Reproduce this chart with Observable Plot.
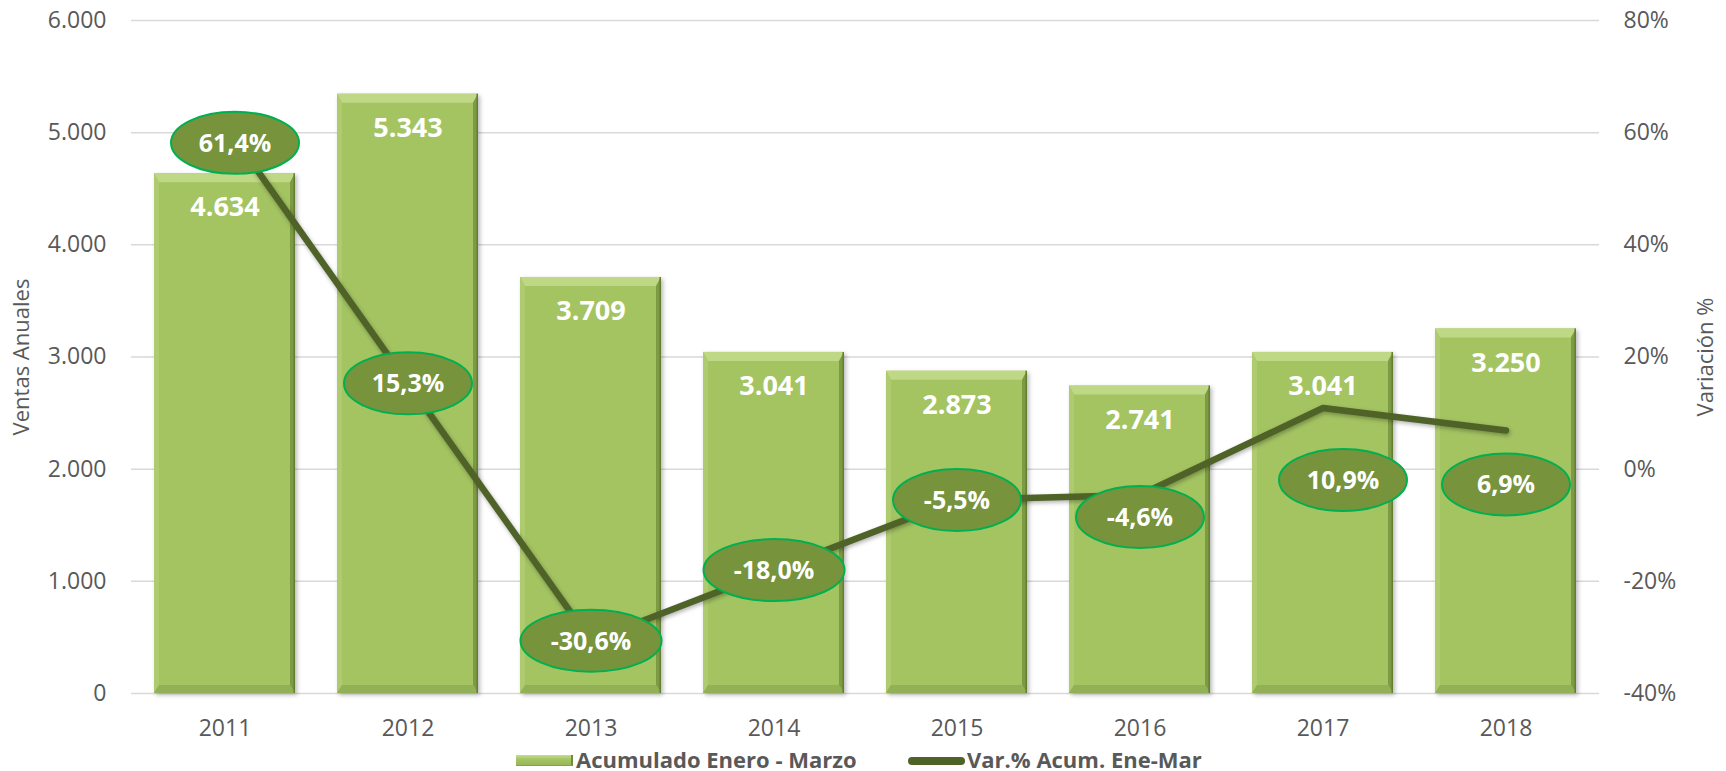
<!DOCTYPE html>
<html>
<head>
<meta charset="utf-8">
<script src="https://cdn.jsdelivr.net/npm/d3@7"></script>
<script src="https://cdn.jsdelivr.net/npm/@observablehq/plot@0.6"></script>
<style>
  body { margin: 0; background: #ffffff; font-family: "Open Sans", sans-serif; }
  #chart { width: 1726px; height: 742px; }
  #legend { position: relative; width: 1726px; height: 29px; font-family: "Open Sans", sans-serif; }
  #legend .sw, #legend .tx { position: absolute; }
  #legend .tx { font-size: 22px; font-weight: bold; color: #595959; top: 5px; line-height: 24px; white-space: nowrap; }
  .sw-bar { left: 516px; top: 13px; width: 57px; height: 11px; box-sizing: border-box;
    background: linear-gradient(#c6dd8f, #a4c462 45%, #98b757);
    border-right: 2px solid #6f8c38; border-bottom: 1px solid #86a34a; }
  .sw-line { left: 908px; top: 15px; width: 57px; height: 8px; border-radius: 4px; background: #4F6228; }
  svg g[aria-label="bar"] { filter: drop-shadow(2px 2px 2px rgba(0,0,0,0.28)); }
  svg g[aria-label="line"] { filter: drop-shadow(1px 2px 2px rgba(0,0,0,0.3)); }
</style>
</head>
<body>
<div id="chart"></div>
<div id="legend">
  <div class="sw sw-bar"></div><div class="tx" style="left:576px">Acumulado Enero - Marzo</div>
  <div class="sw sw-line"></div><div class="tx" style="left:967px">Var.% Acum. Ene-Mar</div>
</div>
<script>
// ---- data ----
const years = ["2011", "2012", "2013", "2014", "2015", "2016", "2017", "2018"];
const ventas = [4634, 5343, 3709, 3041, 2873, 2741, 3041, 3250];
const variacion = [61.4, 15.3, -30.6, -18.0, -5.5, -4.6, 10.9, 6.9];
const leftTicks = [0, 1000, 2000, 3000, 4000, 5000, 6000];
const rightTicks = [-40, -20, 0, 20, 40, 60, 80];

// ---- label placement (pixel nudges, style only) ----
const labelDx = [10, 0, 0, 0, 0, 0, 20, 0];
const labelDy = [18, 0, 0, 0, 0, 22, 72, 54];

const loc = d3.formatLocale({decimal: ",", thousands: ".", grouping: [3], currency: ["", ""], minus: "-"});
const fmtN = loc.format(",d");
const fmt1 = loc.format(".1f");
const fmtP = v => fmt1(v) + "%";
// secondary axis: -40%..80% mapped onto 0..6000
const toY = p => (p + 40) * 50;
const fromY = y => Math.round(y / 50 - 40);

const data = years.map((year, i) => ({year, ventas: ventas[i], pct: variacion[i]}));

function ellipse(rx, ry) {
  const k = 0.5523;
  return {
    draw(ctx) {
      ctx.moveTo(rx, 0);
      ctx.bezierCurveTo(rx, k * ry, k * rx, ry, 0, ry);
      ctx.bezierCurveTo(-k * rx, ry, -rx, k * ry, -rx, 0);
      ctx.bezierCurveTo(-rx, -k * ry, -k * rx, -ry, 0, -ry);
      ctx.bezierCurveTo(k * rx, -ry, rx, -k * ry, rx, 0);
      ctx.closePath();
    }
  };
}

const labelMarks = data.flatMap((d, i) => {
  const txt = fmtP(d.pct);
  const rx = txt.length >= 6 ? 70.5 : 64;
  return [
    Plot.dot([d], {x: "year", y: e => toY(e.pct), r: 20, symbol: ellipse(rx, 31),
      fill: "#77933C", stroke: "#00B050", strokeWidth: 2, dx: labelDx[i], dy: labelDy[i]}),
    Plot.text([d], {x: "year", y: e => toY(e.pct), text: () => txt, dx: labelDx[i], dy: labelDy[i] + 1,
      fill: "white", fontSize: 25, fontWeight: "bold"})
  ];
});

const svg = Plot.plot({
  width: 1726,
  height: 742,
  marginLeft: 131,
  marginRight: 127,
  marginTop: 20,
  marginBottom: 49,
  style: {fontFamily: "Open Sans, sans-serif", fontSize: "23px", background: "#ffffff", color: "#595959"},
  x: {type: "band", domain: years, paddingInner: 0.23, paddingOuter: 0.115, label: null},
  y: {domain: [0, 6000], label: null},
  marks: [
    Plot.gridY({ticks: leftTicks, stroke: "#D9D9D9", strokeOpacity: 1, strokeWidth: 1.5}),
    Plot.axisY({anchor: "left", ticks: leftTicks, tickFormat: fmtN, tickSize: 0, tickPadding: 25,
      label: null, fontSize: 23, fill: "#595959"}),
    Plot.axisY({anchor: "right", ticks: rightTicks.map(toY), tickFormat: v => fromY(v) + "%", tickSize: 0,
      tickPadding: 24, label: null, fontSize: 23, fill: "#595959"}),
    Plot.axisX({tickSize: 0, tickPadding: 26, label: null, fontSize: 23, fill: "#595959"}),
    Plot.text(["Ventas Anuales"], {frameAnchor: "left", textAnchor: "middle", dx: -110, rotate: -90,
      text: d => d, fontSize: 22, fill: "#595959"}),
    Plot.text(["Variación %"], {frameAnchor: "right", textAnchor: "middle", dx: 106, rotate: -90,
      text: d => d, fontSize: 22, fill: "#595959"}),
    Plot.barY(data, {x: "year", y: "ventas", fill: "#A4C462"}),
    Plot.text(data, {x: "year", y: "ventas", text: d => fmtN(d.ventas), dy: 34,
      fill: "white", fontSize: 27, fontWeight: "bold"}),
    Plot.line(data, {x: "year", y: d => toY(d.pct), stroke: "#4F6228", strokeWidth: 6.5,
      strokeLinecap: "round", strokeLinejoin: "round"}),
    ...labelMarks
  ]
});

(function addBevels() {
  const ns = "http://www.w3.org/2000/svg";
  const barG = svg.querySelector('g[aria-label="bar"]');
  if (!barG) return;
  const g = document.createElementNS(ns, "g");
  if (barG.getAttribute("transform")) g.setAttribute("transform", barG.getAttribute("transform"));
  const poly = (pts, fill) => {
    const p = document.createElementNS(ns, "polygon");
    p.setAttribute("points", pts.map(q => q.join(",")).join(" "));
    p.setAttribute("fill", fill);
    g.appendChild(p);
  };
  barG.querySelectorAll("rect").forEach(r => {
    const x = +r.getAttribute("x"), y = +r.getAttribute("y");
    const w = +r.getAttribute("width"), h = +r.getAttribute("height");
    const t = 9, s = 5, b = 8;
    poly([[x, y], [x + w, y], [x + w - s, y + t], [x + s, y + t]], "#BFD885");
    poly([[x, y], [x + s, y + t], [x + s, y + h - b], [x, y + h]], "#AECB6F");
    poly([[x + w, y], [x + w, y + h], [x + w - s, y + h - b], [x + w - s, y + t]], "#7D9A44");
    poly([[x, y + h], [x + w, y + h], [x + w - s, y + h - b], [x + s, y + h - b]], "#92B055");
    const edge = document.createElementNS(ns, "line");
    edge.setAttribute("x1", x + w - 0.75); edge.setAttribute("x2", x + w - 0.75);
    edge.setAttribute("y1", y); edge.setAttribute("y2", y + h);
    edge.setAttribute("stroke", "#62802F"); edge.setAttribute("stroke-width", 1.5);
    g.appendChild(edge);
  });
  barG.parentNode.insertBefore(g, barG.nextSibling);
})();

document.getElementById("chart").appendChild(svg);
</script>
</body>
</html>
